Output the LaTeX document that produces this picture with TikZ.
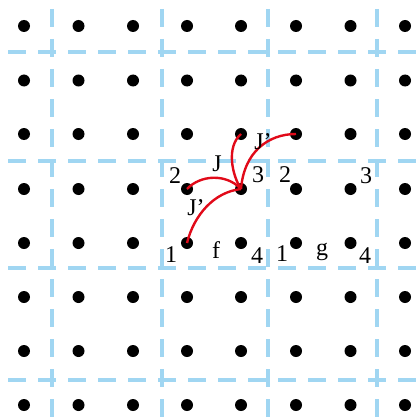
\documentclass[tikz,border=0pt]{standalone}
\usepackage{fontspec}
\setmainfont{Liberation Serif}
\definecolor{gridblue}{RGB}{160,214,242}
\definecolor{curvered}{RGB}{225,10,25}
\begin{document}
\begin{tikzpicture}[x=1pt,y=-1pt,
  dot/.style={circle,fill=black,inner sep=0pt,minimum size=12pt},
  gridline/.style={gridblue,line width=4pt,dash pattern=on 18pt off 12pt},
  bond/.style={curvered,line width=2.4pt},
  lab/.style={anchor=base,inner sep=0pt,font=\fontsize{24}{24}\selectfont}]
\useasboundingbox (0,0) rectangle (419,417);
% dashed grid
\foreach \x in {52,162,268,377} \draw[gridline] (\x,9) -- (\x,417);
\foreach \y in {52,161,268,380} \draw[gridline] (8,\y) -- (419,\y);
% dots
\foreach \i/\x in {0/24,1/78.5,2/133,3/187,4/241,5/296,6/350.5,7/405}
  \foreach \j/\y in {0/26,1/80.5,2/134,3/189,4/243,5/297,6/351,7/405}
    \node[dot] (d\i\j) at (\x,\y) {};
% curves
\draw[bond] (d33.center) .. controls (200,175) and (226,173) .. (d43.center);
\draw[bond] (d34.center) .. controls (194,215) and (214,192) .. (d43.center);
\draw[bond] (d42.center) .. controls (226,147) and (232,175) .. (d43.center);
\draw[bond] (d52.center) .. controls (268,134) and (244,152) .. (d43.center);
% labels
\node[lab] (l2a) at (175,183) {2};
\node[lab] (lJ)  at (217,171) {J};
\node[lab] (l3a) at (258,182) {3};
\node[lab] (l2b) at (285,182) {2};
\node[lab] (lJt) at (263,149) {J’};
\node[lab] (lJb) at (196,215) {J’};
\node[lab] (l1a) at (171,262) {1};
\node[lab] (lf)  at (216,258) {f};
\node[lab] (l4a) at (257,263) {4};
\node[lab] (l1b) at (282,261) {1};
\node[lab] (lg)  at (322,255) {g};
\node[lab] (l4b) at (365,263) {4};
\node[lab] (l3b) at (366,183) {3};
\end{tikzpicture}
\end{document}
